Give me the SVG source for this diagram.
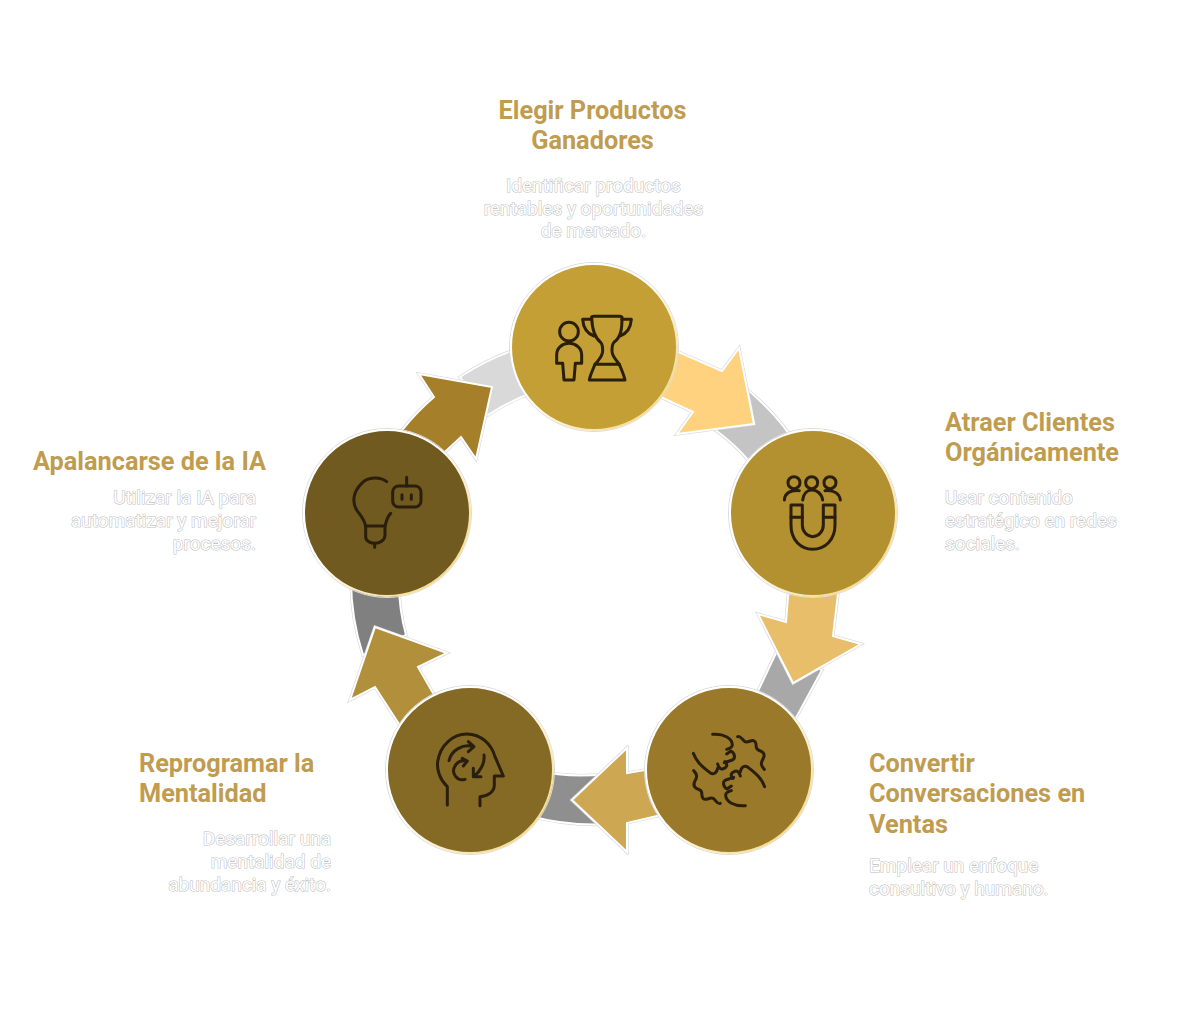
<svg xmlns="http://www.w3.org/2000/svg" width="1200" height="1031" viewBox="0 0 1200 1031">
<style>
.t{font:700 25.3px Roboto,"Liberation Sans",sans-serif;fill:#bf9b4d}
.d{font:400 19px Roboto,"Liberation Sans",sans-serif;fill:#fff;stroke:#bdbdbd;stroke-width:1.1;paint-order:stroke}
.m{text-anchor:middle}.e{text-anchor:end}
.o{fill:none;stroke:#d6d6d6;stroke-width:3.2;stroke-linejoin:miter}
.w{stroke:#fff;stroke-width:2;stroke-linejoin:miter}
.r{fill:none;stroke:#dcdcdc;stroke-width:1}
.c{stroke:url(#edge);stroke-width:2}
.i{fill:none;stroke:#2a1f0c;stroke-width:9;stroke-linecap:round;stroke-linejoin:round}
#labels{opacity:.99}
</style>
<defs>
<linearGradient id="edge" x1="0" y1="0" x2="1" y2="1"><stop offset=".45" stop-color="#fff"/><stop offset="1" stop-color="#f2cf63"/></linearGradient>
<path id="b1" d="M735 380A244 244 0 0 1 800 450L760 475A196 196 0 0 0 700 420Z"/>
<path id="a1" d="M660 344L722 371L739 348L754 424L677 434L693 412L650 392Z"/>
<path id="b2" d="M776 653L758 691L745 718L790 729L797 716L822 670Z"/>
<path id="a2" d="M789 585L839 585L833 636L861 644L793 683L758 614L786 622Z"/>
<path id="b3" d="M535 770A196 196 0 0 0 605 774L610 824A244 244 0 0 1 530 816Z"/>
<path id="a3" d="M660 770L645 770L627 773L627 748L572 800L627 852L627 823L657 816L670 814Z"/>
<path id="b4" d="M351 580A244 244 0 0 0 363 655L406 635A196 196 0 0 1 399 585Z"/>
<path id="a4" d="M433 693L418 667L447 653L375 627L350 700L375 687L399 724L415 740L445 705Z"/>
<path id="b5" d="M460 377A244 244 0 0 1 520 348L535 392A196 196 0 0 0 488 415Z"/>
<path id="a5" d="M390 440L403 429A244 244 0 0 1 434 397L419 374L492 387L476 459L461 437L447 450L430 465Z"/>
<g id="hand">
<path d="M203 133C235 130 262 145 262 165C262 172 252 176 245 178"/>
<path d="M245 192L258 183C270 190 272 205 262 210L238 218"/>
<path d="M240 215C250 225 245 232 235 236C228 240 220 232 218 222"/>
<path d="M218 235C215 250 205 255 195 248C175 232 155 218 145 190"/>
<path d="M278 140C285 135 292 150 300 155C310 160 322 145 330 155C338 165 328 175 340 180C352 185 362 190 355 205C348 218 345 225 358 238"/>
</g>
</defs>
<g id="connectors">
<use href="#b1" class="o"/><use href="#b1" class="w" fill="#c4c4c4"/>
<use href="#a1" class="o"/><use href="#a1" class="w" fill="#fed27f"/>
<use href="#b2" class="o"/><use href="#b2" class="w" fill="#a8a8a8"/>
<use href="#a2" class="o"/><use href="#a2" class="w" fill="#e8be6a"/>
<use href="#b3" class="o"/><use href="#b3" class="w" fill="#8f8f8f"/>
<use href="#a3" class="o"/><use href="#a3" class="w" fill="#cea752"/>
<use href="#b4" class="o"/><use href="#b4" class="w" fill="#808080"/>
<use href="#a4" class="o"/><use href="#a4" class="w" fill="#b28f3b"/>
<use href="#b5" class="o"/><use href="#b5" class="w" fill="#d9d9d9"/>
<use href="#a5" class="o"/><use href="#a5" class="w" fill="#a67f2b"/>
</g>
<g id="node-1">
<circle class="r" cx="594" cy="347" r="84.500"/><circle class="c" cx="594" cy="347" r="83" fill="#c49f35"/>
<g class="i" transform="translate(510 265) scale(.3333)">
<circle cx="177" cy="200" r="28"/>
<path d="M162 345H192L196 295H215V270C215 250 198 235 177 235C156 235 140 250 140 270V295H158Z"/>
<path d="M245 158C243 155 248 154 252 154H328C334 154 338 156 336 160C336 185 335 215 312 232C306 237 306 245 306 258C306 272 316 282 322 290L328 298H255L262 290C268 282 278 272 278 258C278 245 278 237 272 232C250 215 246 185 245 158Z"/>
<path d="M245 163H218C220 190 230 205 252 213"/>
<path d="M336 163H364C362 190 352 205 330 213"/>
<path d="M255 298C248 315 240 332 238 345H345C342 330 335 315 328 298"/>
</g></g>
<g id="node-2">
<circle class="r" cx="813" cy="513" r="84.500"/><circle class="c" cx="813" cy="513" r="83" fill="#b39030"/>
<g class="i" transform="translate(730 430) scale(.3333)">
<circle cx="192" cy="158" r="18"/><circle cx="245" cy="158" r="18"/><circle cx="300" cy="158" r="18"/>
<path d="M163 210C165 190 180 180 208 182"/><path d="M218 210C220 190 232 180 246 180C260 180 275 190 278 210"/><path d="M285 182C310 180 328 190 331 210"/>
<path d="M183 225H217V285C217 305 232 320 248 320C265 320 280 305 280 285V225H315V285C315 330 285 358 248 358C212 358 183 330 183 285Z"/>
<path d="M183 262H217M280 262H315"/>
</g></g>
<g id="node-3">
<circle class="r" cx="729" cy="770" r="84.500"/><circle class="c" cx="729" cy="770" r="83" fill="#9a7a2a"/>
<g class="i" transform="translate(645 690) scale(.3333)">
<use href="#hand"/>
<use href="#hand" transform="rotate(180 252 240)"/>
</g></g>
<g id="node-4">
<circle class="r" cx="470" cy="770" r="84.500"/><circle class="c" cx="470" cy="770" r="83" fill="#856a26"/>
<g class="i" transform="translate(385 690) scale(.3333)">
<path d="M187 345V290C165 270 155 240 158 215C165 165 205 132 245 132C290 132 320 165 330 200L355 258H328V285C328 305 310 318 285 320V347"/>
<path d="M192 212C200 180 235 160 265 170M250 155L267 170L250 185"/>
<path d="M240 268C215 275 200 250 208 232C215 215 230 210 245 213M232 205L247 213L235 228"/>
<path d="M297 195C300 220 285 245 268 258M265 235L265 260L288 260"/>
</g></g>
<g id="node-5">
<circle class="r" cx="387" cy="513" r="84.500"/><circle class="c" cx="387" cy="513" r="83" fill="#705a20"/>
<g class="i" transform="translate(300 430) scale(.3333)">
<path d="M260 155C240 140 205 140 185 160C160 185 155 215 170 240C180 255 195 270 197 290V320C197 335 215 340 225 340C240 340 255 330 255 315V290C258 275 262 260 272 250"/>
<path d="M197 288H255M224 340V352"/>
<rect x="278" y="168" width="85" height="63" rx="18"/>
<path d="M320 168V142M306 194V208M334 194V208"/>
</g></g>
<g id="labels">
<text class="t m" x="592.500" y="119">Elegir Productos</text>
<text class="t m" x="592.500" y="149">Ganadores</text>
<text class="d m" x="593.500" y="192">Identificar productos</text>
<text class="d m" x="593.500" y="215">rentables y oportunidades</text>
<text class="d m" x="593.500" y="237">de mercado.</text>
<text class="t" x="945" y="431">Atraer Clientes</text>
<text class="t" x="945" y="461">Orgánicamente</text>
<text class="d" x="945" y="504">Usar contenido</text>
<text class="d" x="945" y="527">estratégico en redes</text>
<text class="d" x="945" y="550">sociales.</text>
<text class="t" x="869" y="772">Convertir</text>
<text class="t" x="869" y="802">Conversaciones en</text>
<text class="t" x="869" y="833">Ventas</text>
<text class="d" x="869" y="872">Emplear un enfoque</text>
<text class="d" x="869" y="895">consultivo y humano.</text>
<text class="t" x="139" y="772">Reprogramar la</text>
<text class="t" x="139" y="802">Mentalidad</text>
<text class="d e" x="331" y="845">Desarrollar una</text>
<text class="d e" x="331" y="868">mentalidad de</text>
<text class="d e" x="331" y="891">abundancia y éxito.</text>
<text class="t e" x="266" y="470">Apalancarse de la IA</text>
<text class="d e" x="256" y="504">Utilizar la IA para</text>
<text class="d e" x="256" y="527">automatizar y mejorar</text>
<text class="d e" x="256" y="550">procesos.</text>
</g>
</svg>
